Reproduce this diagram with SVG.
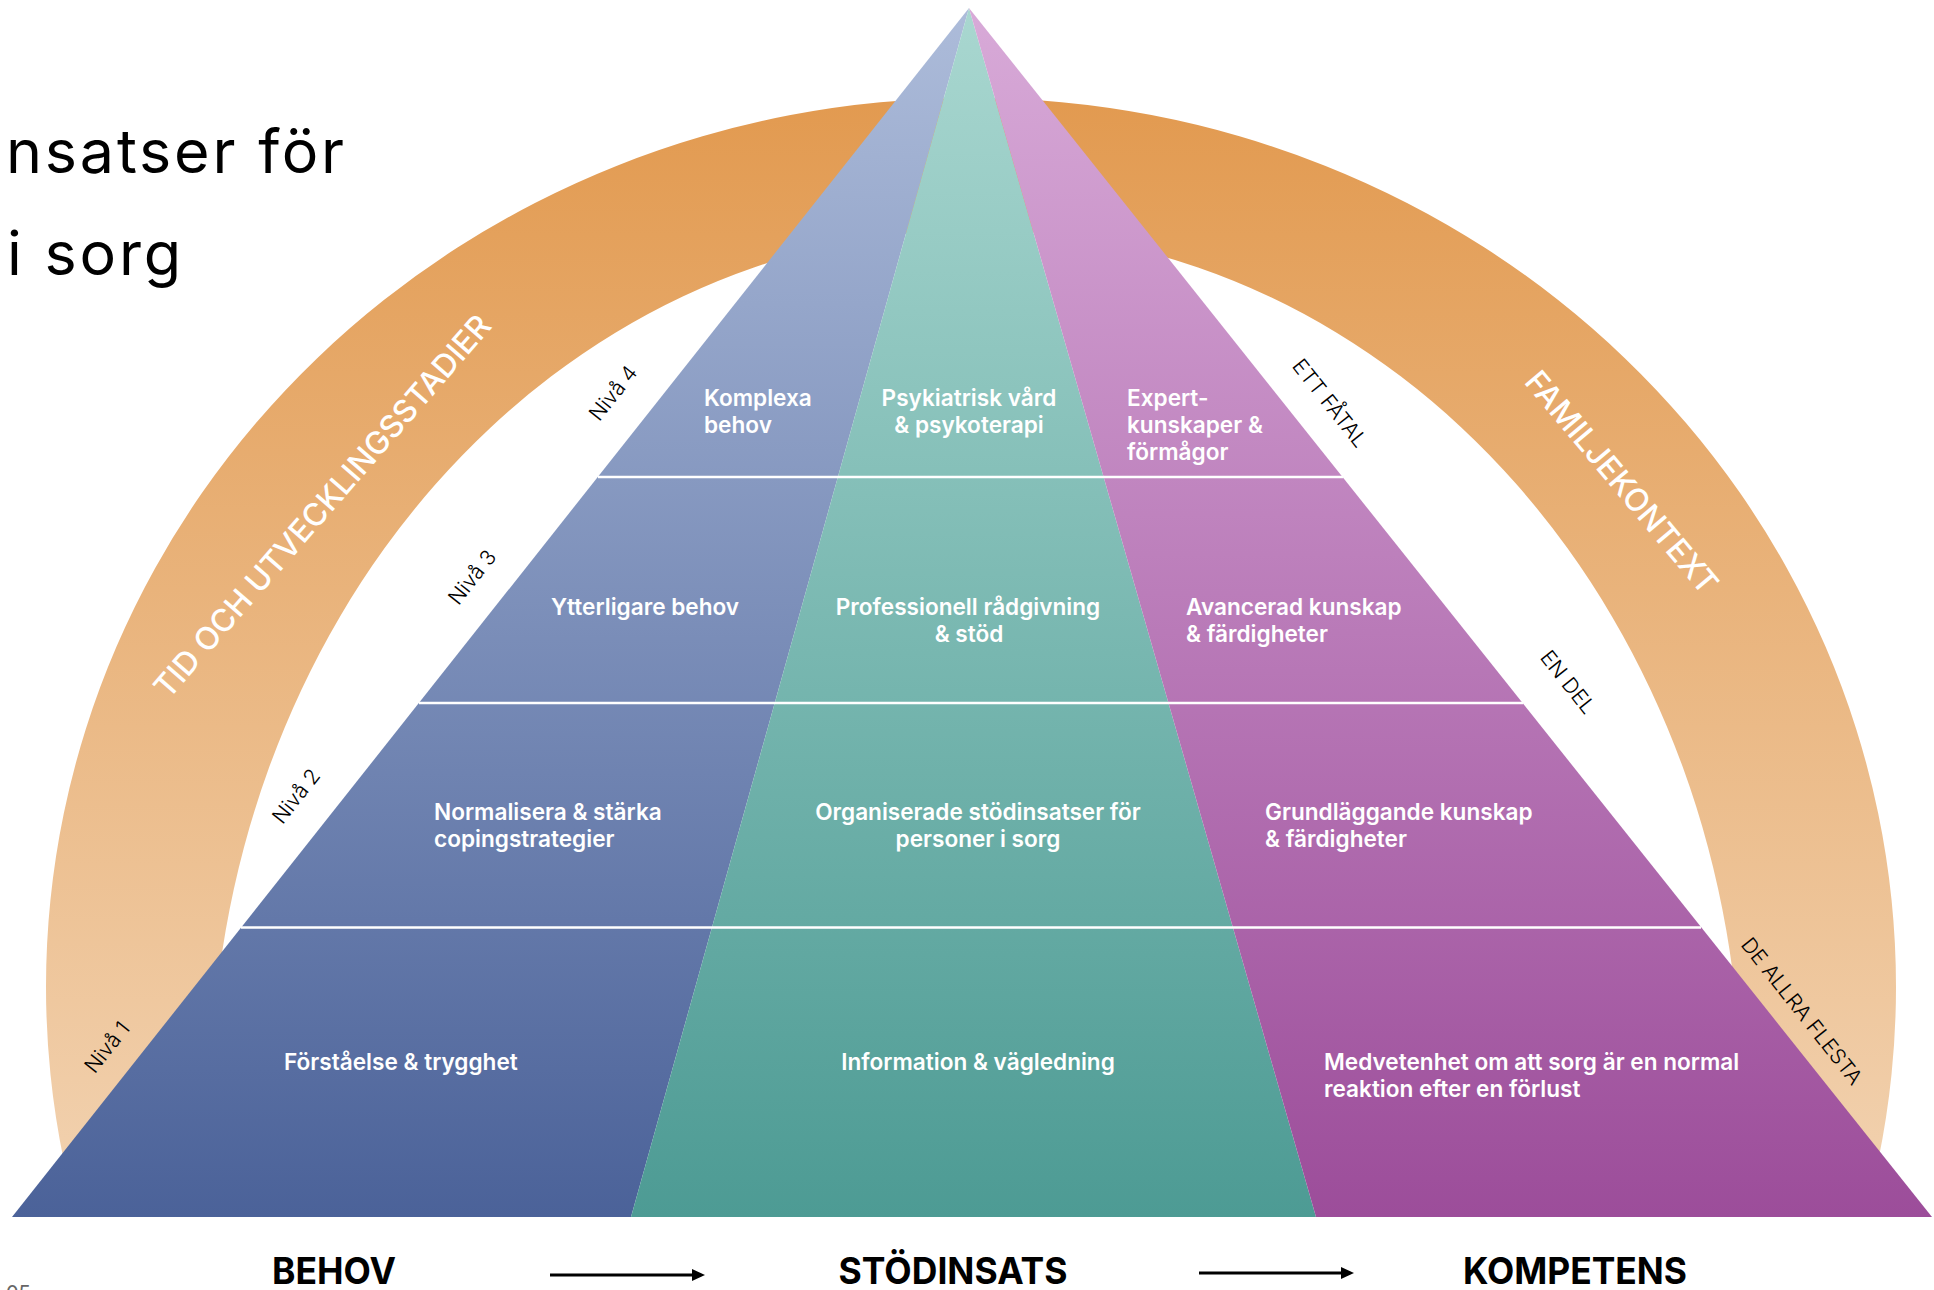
<svg xmlns="http://www.w3.org/2000/svg" width="1934" height="1290" viewBox="0 0 1934 1290">
<defs>
<style>
.lbl{font-family:Inter,"Liberation Sans",sans-serif;font-weight:600;font-size:22.6px;fill:#ffffff}
.mid{text-anchor:middle}
.niva{font-family:Inter,"Liberation Sans",sans-serif;font-weight:300;font-size:21px;fill:#000000;text-anchor:middle;dominant-baseline:central}
.arc{font-family:Inter,"Liberation Sans",sans-serif;font-weight:500;font-size:31.5px;fill:#ffffff;text-anchor:middle;dominant-baseline:central}
.foot{font-family:Inter,"Liberation Sans",sans-serif;font-weight:700;font-size:37px;fill:#000000;text-anchor:middle}
.title{font-family:Inter,"Liberation Sans",sans-serif;font-weight:400;font-size:61px;fill:#000000;letter-spacing:2.8px}
.sep{stroke:#ffffff;stroke-width:2.5}
.arrow{stroke:#000000;stroke-width:3;fill:none}
</style>
<linearGradient id="gBand" gradientUnits="userSpaceOnUse" x1="0" y1="98" x2="0" y2="1217">
<stop offset="0" stop-color="#e29a50"/><stop offset="1" stop-color="#f2d3b2"/>
</linearGradient>
<linearGradient id="gBlue" gradientUnits="userSpaceOnUse" x1="0" y1="8" x2="0" y2="1217">
<stop offset="0" stop-color="#adbcda"/><stop offset="1" stop-color="#4b6299"/>
</linearGradient>
<linearGradient id="gTeal" gradientUnits="userSpaceOnUse" x1="0" y1="8" x2="0" y2="1217">
<stop offset="0" stop-color="#a9d7d0"/><stop offset="1" stop-color="#4d9b94"/>
</linearGradient>
<linearGradient id="gPurple" gradientUnits="userSpaceOnUse" x1="0" y1="8" x2="0" y2="1217">
<stop offset="0" stop-color="#d8aad8"/><stop offset="1" stop-color="#9c4d9a"/>
</linearGradient>
<clipPath id="cBand"><rect x="0" y="0" width="1934" height="1216"/></clipPath>
<marker id="ah" markerUnits="userSpaceOnUse" markerWidth="13" markerHeight="12" viewBox="0 0 13 12" refX="5" refY="6" orient="auto">
<path d="M0,0 L13,6 L0,12 z" fill="#000000"/>
</marker>
</defs>
<rect width="1934" height="1290" fill="#ffffff"/>

<g id="title">
<text class="title" x="6" y="173">nsatser för</text>
<text class="title" x="7" y="275">i sorg</text>
</g>

<g id="band">
<path clip-path="url(#cBand)" fill="url(#gBand)" fill-rule="evenodd" d="M46,987 A925,889 0 1 1 1896,987 A925,889 0 1 1 46,987 Z M211,1100 A765,870 0 1 1 1741,1100 A765,870 0 1 1 211,1100 Z"/>
<text class="arc" transform="translate(322,506) rotate(-49)">TID OCH UTVECKLINGSSTADIER</text>
<text class="arc" transform="translate(1622,482) rotate(50)">FAMILJEKONTEXT</text>
</g>

<g id="pyramid">
<polygon id="col-behov" points="969,8 12,1217 631,1217" fill="url(#gBlue)"/>
<polygon id="col-stodinsats" points="969,8 631,1217 1316,1217" fill="url(#gTeal)"/>
<polygon id="col-kompetens" points="969,8 1316,1217 1932,1217" fill="url(#gPurple)"/>
<line class="sep" x1="598" y1="477" x2="1343" y2="477"/>
<line class="sep" x1="419" y1="703" x2="1523" y2="703"/>
<line class="sep" x1="241" y1="927.5" x2="1701" y2="927.5"/>
</g>

<g id="level4">
<text class="lbl" x="704" y="406">Komplexa</text>
<text class="lbl" x="704" y="433">behov</text>
<text class="lbl mid" x="969" y="406">Psykiatrisk vård</text>
<text class="lbl mid" x="969" y="433">&amp; psykoterapi</text>
<text class="lbl" x="1127" y="406">Expert-</text>
<text class="lbl" x="1127" y="433">kunskaper &amp;</text>
<text class="lbl" x="1127" y="460">förmågor</text>
</g>
<g id="level3">
<text class="lbl mid" x="645" y="615">Ytterligare behov</text>
<text class="lbl mid" x="968" y="615">Professionell rådgivning</text>
<text class="lbl mid" x="969" y="642">&amp; stöd</text>
<text class="lbl" x="1186" y="615">Avancerad kunskap</text>
<text class="lbl" x="1186" y="642">&amp; färdigheter</text>
</g>
<g id="level2">
<text class="lbl" x="434" y="820">Normalisera &amp; stärka</text>
<text class="lbl" x="434" y="847">copingstrategier</text>
<text class="lbl mid" x="978" y="820">Organiserade stödinsatser för</text>
<text class="lbl mid" x="978" y="847">personer i sorg</text>
<text class="lbl" x="1265" y="820">Grundläggande kunskap</text>
<text class="lbl" x="1265" y="847">&amp; färdigheter</text>
</g>
<g id="level1">
<text class="lbl" x="284" y="1070">Förståelse &amp; trygghet</text>
<text class="lbl mid" x="978" y="1070">Information &amp; vägledning</text>
<text class="lbl" x="1324" y="1070">Medvetenhet om att sorg är en normal</text>
<text class="lbl" x="1324" y="1097">reaktion efter en förlust</text>
</g>

<g id="niva-labels">
<text class="niva" transform="translate(613,393) rotate(-51.6)">Nivå 4</text>
<text class="niva" transform="translate(472,577) rotate(-51.6)">Nivå 3</text>
<text class="niva" transform="translate(296,796) rotate(-51.6)">Nivå 2</text>
<text class="niva" transform="translate(107,1047) rotate(-51.6)">Nivå 1</text>
</g>
<g id="share-labels">
<text class="niva" transform="translate(1330,403) rotate(51.6)">ETT FÅTAL</text>
<text class="niva" transform="translate(1568,682) rotate(51.6)">EN DEL</text>
<text class="niva" transform="translate(1802,1011) rotate(51.6)">DE ALLRA FLESTA</text>
</g>

<g id="footer">
<text class="foot" x="334" y="1284" textLength="124" lengthAdjust="spacingAndGlyphs">BEHOV</text>
<text class="foot" x="953" y="1284" textLength="229" lengthAdjust="spacingAndGlyphs">STÖDINSATS</text>
<text class="foot" x="1575" y="1284" textLength="224" lengthAdjust="spacingAndGlyphs">KOMPETENS</text>
<text x="6" y="1300" font-family="Inter,'Liberation Sans',sans-serif" font-size="20" fill="#666666">05</text>
</g>

<g id="connectors">
<line class="arrow" x1="550" y1="1275" x2="697" y2="1275" marker-end="url(#ah)"/>
<line class="arrow" x1="1199" y1="1273" x2="1346" y2="1273" marker-end="url(#ah)"/>
</g>
</svg>
